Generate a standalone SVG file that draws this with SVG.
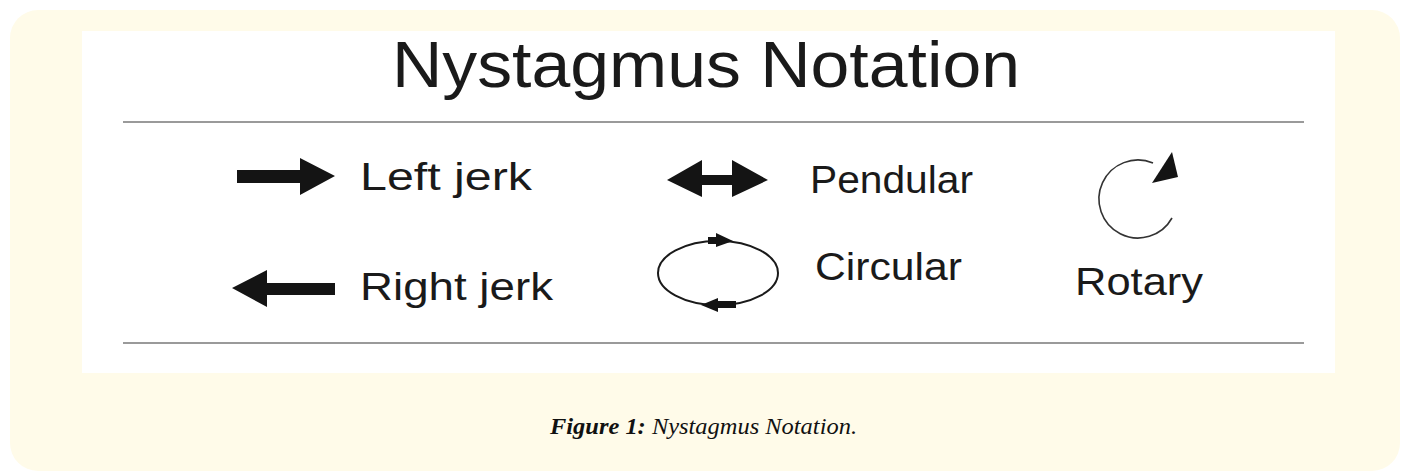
<svg xmlns="http://www.w3.org/2000/svg" width="1404" height="471" viewBox="0 0 1404 471">
<style>
.lbl{font-family:"Liberation Sans",Arial,sans-serif;font-size:38px;fill:#1a1a1a}
.rule{stroke:#9a9a9a;stroke-width:2}
.ink{fill:#141414}
.cap{font-family:"Liberation Serif","Times New Roman",serif;font-size:24px;fill:#111;font-style:italic}
</style>
<rect x="10" y="10" width="1390" height="461" rx="28" fill="#fffbe9"/>
<rect x="82" y="31" width="1253" height="342" fill="#ffffff"/>
<text x="392" y="87" font-family="Liberation Sans, Arial, sans-serif" font-size="65" fill="#1a1a1a" textLength="628" lengthAdjust="spacingAndGlyphs">Nystagmus Notation</text>
<line class="rule" x1="123" y1="122" x2="1304" y2="122"/>
<line class="rule" x1="123" y1="343" x2="1304" y2="343"/>
<g id="left-jerk">
<polygon class="ink" points="237,170 300,170 300,158 335,176 300,195 300,183 237,183"/>
<text class="lbl" x="360" y="190" textLength="172" lengthAdjust="spacingAndGlyphs">Left jerk</text>
</g>
<g id="right-jerk">
<polygon class="ink" points="232,288 267,270 267,283 335,283 335,295 267,295 267,307"/>
<text class="lbl" x="360" y="300" textLength="193" lengthAdjust="spacingAndGlyphs">Right jerk</text>
</g>
<g id="pendular">
<polygon class="ink" points="667,180 702,160 702,175 732,175 732,160 768,180 732,197 732,185 702,185 702,197"/>
<text class="lbl" x="810" y="193" textLength="163" lengthAdjust="spacingAndGlyphs">Pendular</text>
</g>
<g id="circular">
<ellipse cx="718" cy="273" rx="60" ry="32" fill="none" stroke="#1a1a1a" stroke-width="2"/>
<polygon class="ink" points="708,237 716,237 716,233 733,241 716,247 716,244 708,244"/>
<polygon class="ink" points="701,305 718,298 718,301 736,301 736,308 718,308 718,312"/>
<text class="lbl" x="815" y="280" textLength="147" lengthAdjust="spacingAndGlyphs">Circular</text>
</g>
<g id="rotary">
<path d="M1172,218 A39,39 0 1 1 1153,163" fill="none" stroke="#333" stroke-width="1.6"/>
<polygon class="ink" points="1152,183 1172,152 1178,177"/>
<text class="lbl" x="1075" y="295" textLength="128" lengthAdjust="spacingAndGlyphs">Rotary</text>
</g>
<text class="cap" x="550" y="434" textLength="307" lengthAdjust="spacingAndGlyphs"><tspan font-weight="bold">Figure 1:</tspan> Nystagmus Notation.</text>
</svg>
